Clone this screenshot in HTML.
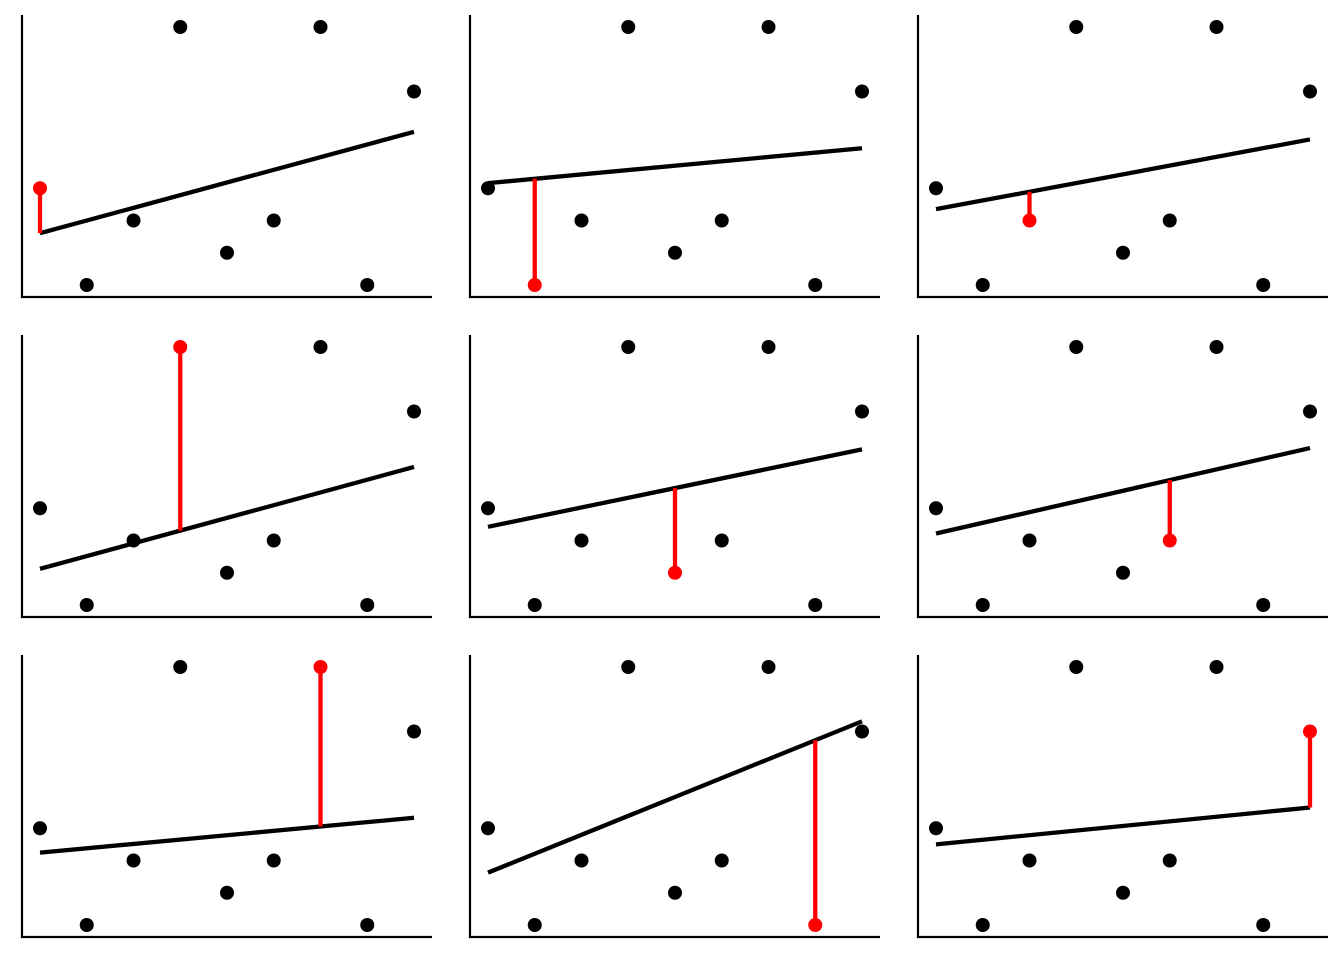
<!DOCTYPE html>
<html><head><meta charset="utf-8"><style>
html,body{margin:0;padding:0;background:#fff;width:1344px;height:960px;overflow:hidden}
</style></head><body>
<svg id="chart" width="1344" height="960" xmlns="http://www.w3.org/2000/svg"></svg>
<script>
const xValues = [1,2,3,4,5,6,7,8,9];
const yValues = [4,1,3,9,2,3,9,1,7];
const NS = "http://www.w3.org/2000/svg";
const svg = document.getElementById('chart');
function xs(v){return 40 + (v-1)*46.75;}
function ys(v){return 285 - (v-1)*32.25;}
function mk(tag, attrs, parent){
  const e = document.createElementNS(NS, tag);
  for (const k in attrs) e.setAttribute(k, attrs[k]);
  parent.appendChild(e); return e;
}
for (let k=0;k<9;k++){
  const col=k%3, row=Math.floor(k/3);
  const g = mk('g',{transform:`translate(${col*448},${row*320})`},svg);
  
  
  // fit without point k
  let n=0,sx=0,sy=0;
  for(let i=0;i<9;i++) if(i!==k){n++;sx+=xValues[i];sy+=yValues[i];}
  const mx=sx/n,my=sy/n; let sxy=0,sxx=0;
  for(let i=0;i<9;i++) if(i!==k){sxy+=(xValues[i]-mx)*(yValues[i]-my);sxx+=(xValues[i]-mx)**2;}
  const b=sxy/sxx,a=my-b*mx;
  const x0=Math.min(...xValues), x1=Math.max(...xValues);
  const ax = mk('path',{d:'M22,15 L22,297 L432,297',fill:'none',stroke:'#000','stroke-width':2.2},g);
  
  
  const ln = mk('line',{x1:xs(x0),y1:ys(a+b*x0),x2:xs(x1),y2:ys(a+b*x1),stroke:'#000','stroke-width':4.3},g);
  
  
  const xv=xValues[k], pred=a+b*xv;
  const res = mk('line',{x1:xs(xv),y1:ys(yValues[k]),x2:xs(xv),y2:ys(pred),stroke:'#ff0000','stroke-width':4.3},g);
  
  
  for(let i=0;i<9;i++){
    const c = mk('circle',{cx:xs(xValues[i]),cy:ys(yValues[i]),r:7,fill:i===k?'#ff0000':'#000'},g);
    
    
  }
}
</script>
</body></html>
